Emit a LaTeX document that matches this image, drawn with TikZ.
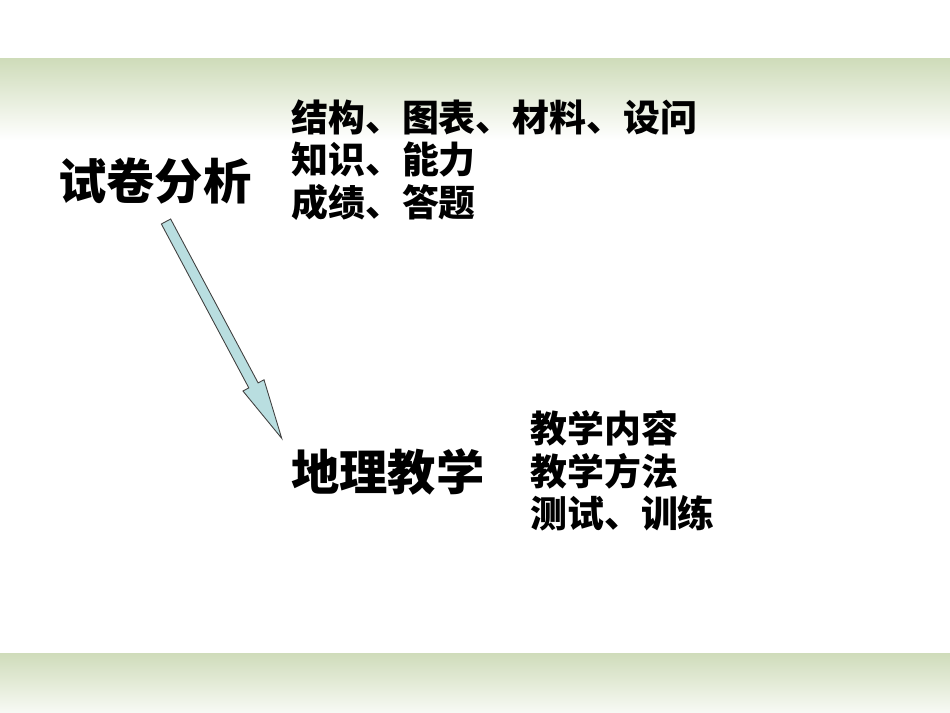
\documentclass[tikz,border=0pt]{standalone}
\usepackage{fontspec}
\newfontfamily\cjk{Noto Sans CJK SC}
\usetikzlibrary{calc}
\definecolor{bandgreen}{RGB}{207,220,186}
\definecolor{arrowfill}{RGB}{185,222,224}

\begin{document}
\begin{tikzpicture}[x=0.02cm,y=-0.02cm,
    title/.style={anchor=west,inner sep=0pt,font=\cjk\bfseries\fontsize{27.5}{33}\selectfont},
    items/.style={anchor=west,inner sep=0pt,align=left,font=\cjk\bfseries\fontsize{21}{24.1}\selectfont},
    fatarrow/.style={draw=black!75,line width=0.5pt,fill=arrowfill,line join=miter}]
\useasboundingbox (0,0) rectangle (950,713);
\shade[top color=bandgreen,bottom color=white] (0,59) rectangle (950,140);
\shade[top color=bandgreen,bottom color=bandgreen!15] (0,653) rectangle (950,713);
\node[title] (exam) at (58,181) {试卷分析};
\node[items] (examlist) at (291,160) {结构、图表、材料、设问\\知识、能力\\成绩、答题};
\node[title] (teach) at (291,472) {地理教学};
\node[items] (teachlist) at (530,471) {教学内容\\教学方法\\测试、训练};
\coordinate (tail) at (166,221.5);
\coordinate (tip) at (281.7,438.3);
\draw[fatarrow] ($(tail)!3pt!90:(tip)$) -- ($(tail)!0.756!(tip)!3pt!90:(tip)$)
  -- ($(tail)!0.756!(tip)!6.8pt!90:(tip)$) -- (tip)
  -- ($(tail)!0.756!(tip)!6.8pt!-90:(tip)$) -- ($(tail)!0.756!(tip)!3pt!-90:(tip)$)
  -- ($(tail)!3pt!-90:(tip)$) -- cycle;
\end{tikzpicture}
\end{document}
